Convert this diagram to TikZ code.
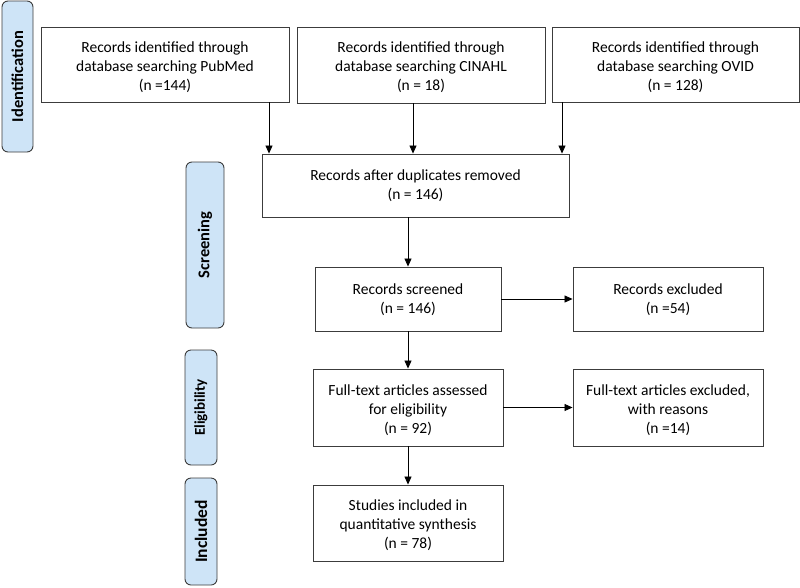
\documentclass[tikz,border=0pt]{standalone}
\usepackage{fontspec}
\setmainfont{Carlito}
\usetikzlibrary{arrows.meta}
\definecolor{phase}{RGB}{206,228,247}
\definecolor{edge}{RGB}{60,60,60}
\begin{document}
\begin{tikzpicture}[x=1pt,y=-1pt,
  box/.style={draw=edge,line width=0.9pt,fill=white,inner sep=0pt},
  boxtext/.style={align=center,inner sep=0pt,font=\fontsize{15.5}{19}\selectfont},
  phasebox/.style={draw=edge,line width=0.9pt,fill=phase,rounded corners=6pt,inner sep=0pt},
  phasetext/.style={rotate=90,font=\bfseries\fontsize{16.5}{19}\selectfont},
  arr/.style={draw=black,line width=0.8pt,-{Triangle[length=8pt,width=7pt]}}]
\useasboundingbox (0,0) rectangle (800,587);
% phase labels
\node[phasebox,minimum width=31pt,minimum height=151pt] (idb) at (17.5,76.5) {};
\node[phasetext] (idt) at (idb.center) {Identification};
\node[phasebox,minimum width=38pt,minimum height=166pt] (scb) at (205,245) {};
\node[phasetext] (sct) at (scb.center) {Screening};
\node[phasebox,minimum width=32pt,minimum height=115pt] (elb) at (201,407.5) {};
\node[phasetext,font=\bfseries\fontsize{15}{18}\selectfont] (elt) at (elb.center) {Eligibility};
\node[phasebox,minimum width=32pt,minimum height=107pt] (inb) at (201,531.5) {};
\node[phasetext,font=\bfseries\fontsize{17.5}{20}\selectfont] (intx) at (inb.center) {Included};
% boxes
\node[box,minimum width=248pt,minimum height=75pt] (pub) at (165,64.5) {};
\node[boxtext] (pubt) at ([yshift=-2.5pt]pub.center) {Records identified through\\database searching PubMed\\(n =144)};
\node[box,minimum width=248pt,minimum height=76pt] (cin) at (421,65) {};
\node[boxtext] (cint) at ([yshift=-2.5pt]cin.center) {Records identified through\\database searching CINAHL\\(n = 18)};
\node[box,minimum width=247pt,minimum height=75pt] (ovid) at (675.5,64.5) {};
\node[boxtext] (ovidt) at ([yshift=-2.5pt]ovid.center) {Records identified through\\database searching OVID\\(n = 128)};
\node[box,minimum width=307pt,minimum height=63pt] (dup) at (415.5,185.5) {};
\node[boxtext] (dupt) at (dup.center) {Records after duplicates removed\\(n = 146)};
\node[box,minimum width=186pt,minimum height=64pt] (scr) at (408,299) {};
\node[boxtext] (scrt) at ([yshift=-1pt]scr.center) {Records screened\\(n = 146)};
\node[box,minimum width=190pt,minimum height=64pt] (exc) at (668,299) {};
\node[boxtext] (exct) at ([yshift=-1pt]exc.center) {Records excluded\\(n =54)};
\node[box,minimum width=190pt,minimum height=77pt] (ft) at (408,407.5) {};
\node[boxtext] (ftt) at ([yshift=-2.5pt]ft.center) {Full-text articles assessed\\for eligibility\\(n = 92)};
\node[box,minimum width=190pt,minimum height=77pt] (ftx) at (668,407.5) {};
\node[boxtext] (ftxt) at ([yshift=-2.5pt]ftx.center) {Full-text articles excluded,\\with reasons\\(n =14)};
\node[box,minimum width=190pt,minimum height=76pt] (inc) at (408,523) {};
\node[boxtext] (inct) at ([yshift=-2.5pt]inc.center) {Studies included in\\quantitative synthesis\\(n = 78)};
% connectors
\coordinate (xa) at (269,0);
\coordinate (xb) at (413,0);
\coordinate (xc) at (562,0);
\draw[arr] (pub.south -| xa) -- (dup.north -| xa);
\draw[arr] (cin.south -| xb) -- (dup.north -| xb);
\draw[arr] (ovid.south -| xc) -- (dup.north -| xc);
\draw[arr] (dup.south -| scr.north) -- (scr.north);
\draw[arr] (scr.east) -- (exc.west);
\draw[arr] (scr.south) -- (ft.north);
\draw[arr] (ft.east) -- (ftx.west);
\draw[arr] (ft.south) -- (inc.north);
\end{tikzpicture}
\end{document}
